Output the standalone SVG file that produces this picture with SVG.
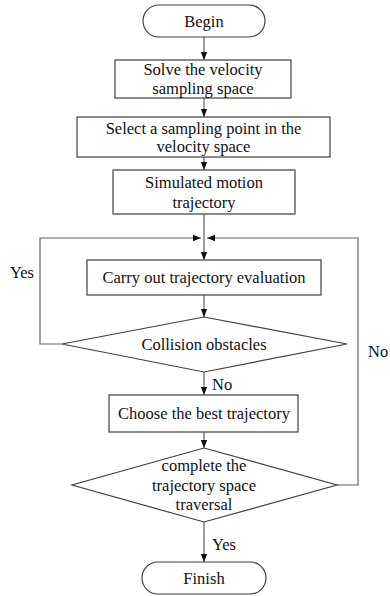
<svg xmlns="http://www.w3.org/2000/svg" width="390" height="596" viewBox="0 0 390 596">
<style>
.s{fill:#fff;stroke:#404040;stroke-width:1.2}
.c{fill:none;stroke:#606060;stroke-width:1.2}
text{font-family:"Liberation Serif","Times New Roman",serif;font-size:16.5px;fill:#111;text-anchor:middle}
.l{text-anchor:start}
</style>
<defs>
<marker id="a" markerUnits="userSpaceOnUse" markerWidth="8" markerHeight="8" viewBox="0 0 8 8" refX="8" refY="4" orient="auto">
<path d="M0,0.8 L8,4 L0,7.2 Z" fill="#111"/>
</marker>
</defs>
<g id="connectors">
<line class="c" x1="204" y1="37" x2="204" y2="60" marker-end="url(#a)"/>
<line class="c" x1="204" y1="98" x2="204" y2="117" marker-end="url(#a)"/>
<line class="c" x1="204" y1="157" x2="204" y2="170" marker-end="url(#a)"/>
<line class="c" x1="204" y1="214" x2="204" y2="260" marker-end="url(#a)"/>
<polyline class="c" points="62,344 40,344 40,238 201,238" marker-end="url(#a)"/>
<polyline class="c" points="337,485 358,485 358,238 207,238" marker-end="url(#a)"/>
<line class="c" x1="204" y1="295" x2="204" y2="317" marker-end="url(#a)"/>
<line class="c" x1="204" y1="372" x2="204" y2="395" marker-end="url(#a)"/>
<line class="c" x1="204" y1="432" x2="204" y2="448" marker-end="url(#a)"/>
<line class="c" x1="204" y1="522" x2="204" y2="562" marker-end="url(#a)"/>
<text class="l" x="10" y="278">Yes</text>
<text class="l" x="212" y="390">No</text>
<text class="l" x="368" y="357">No</text>
<text class="l" x="212" y="550">Yes</text>
</g>
<g id="begin">
<rect class="s" x="143" y="5" width="122" height="32" rx="16"/>
<text x="204" y="27">Begin</text>
</g>
<g id="solve">
<rect class="s" x="115" y="60" width="176" height="38"/>
<text x="203" y="75">Solve the velocity</text>
<text x="203" y="93.5">sampling space</text>
</g>
<g id="select">
<rect class="s" x="77" y="117" width="253" height="40"/>
<text x="203.5" y="134">Select a sampling point in the</text>
<text x="203.5" y="152">velocity space</text>
</g>
<g id="simulate">
<rect class="s" x="113" y="170" width="182" height="44"/>
<text x="204" y="188">Simulated motion</text>
<text x="204" y="208">trajectory</text>
</g>
<g id="evaluate">
<rect class="s" x="87" y="260" width="234" height="35"/>
<text x="204" y="283">Carry out trajectory evaluation</text>
</g>
<g id="collision">
<polygon class="s" points="204,317 347,344 204,372 62,344"/>
<text x="204" y="350">Collision obstacles</text>
</g>
<g id="choose">
<rect class="s" x="109" y="395" width="189" height="37"/>
<text x="204" y="419">Choose the best trajectory</text>
</g>
<g id="complete">
<polygon class="s" points="204,448 337,485 204,522 72,485"/>
<text x="204" y="471">complete the</text>
<text x="204" y="491">trajectory space</text>
<text x="204" y="510">traversal</text>
</g>
<g id="finish">
<rect class="s" x="142" y="562" width="124" height="32" rx="16"/>
<text x="204" y="584">Finish</text>
</g>
</svg>
